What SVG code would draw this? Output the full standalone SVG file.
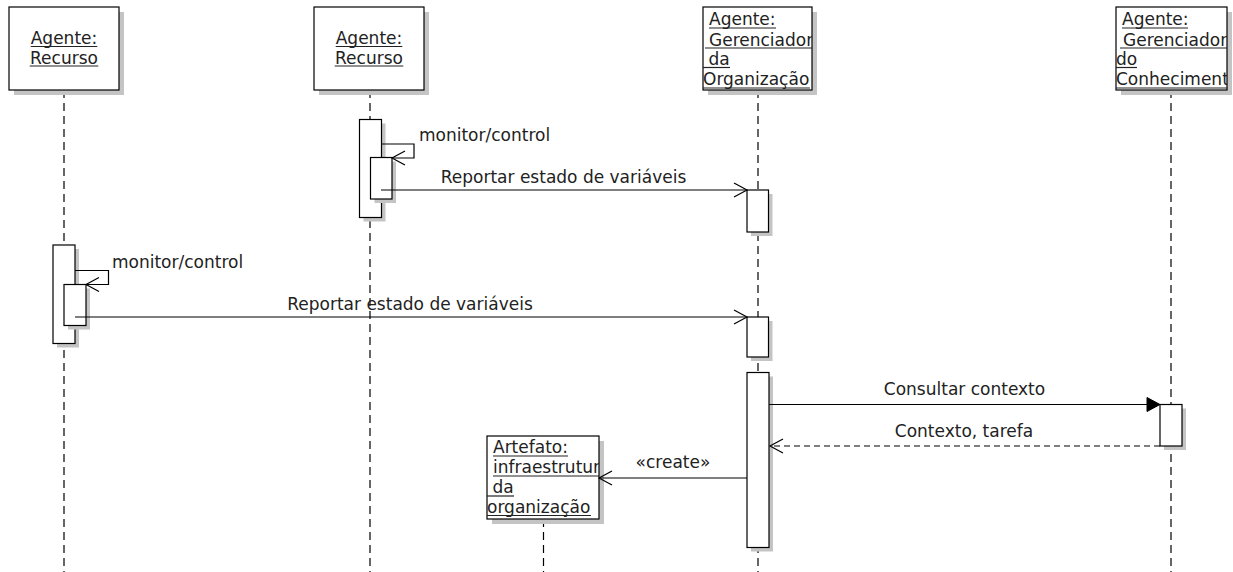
<svg xmlns="http://www.w3.org/2000/svg" width="1233" height="572" viewBox="0 0 1233 572">
  <style>
    text { font-family: "DejaVu Sans", "Liberation Sans", sans-serif; font-size: 17px; fill: #222; }
    .box { fill: #fff; stroke: #000; stroke-width: 1.2; }
    .shadow { fill: #c4c4c4; }
    .act { fill: #fff; stroke: #000; stroke-width: 1.2; }
    .life { stroke: #000; stroke-width: 1.2; stroke-dasharray: 8 5; fill: none; }
    .ul { stroke: #222; stroke-width: 1.2; }
    .msg { stroke: #000; stroke-width: 1.2; fill: none; }
    .ret { stroke: #000; stroke-width: 1.2; fill: none; stroke-dasharray: 6 4; }
    .mid { text-anchor: middle; }
  </style>
  <defs>
    <marker id="open" viewBox="-15 -9 17 18" refX="0" refY="0" markerWidth="17" markerHeight="18" markerUnits="userSpaceOnUse" orient="auto">
      <path d="M-13,-7 L0,0 L-13,7" fill="none" stroke="#000" stroke-width="1.2"/>
    </marker>
    <marker id="filled" viewBox="-15 -9 17 18" refX="0" refY="0" markerWidth="17" markerHeight="18" markerUnits="userSpaceOnUse" orient="auto">
      <path d="M-13,-7 L0,0 L-13,7 Z" fill="#000" stroke="#000" stroke-width="1"/>
    </marker>
    <clipPath id="clipOrg"><rect x="703" y="7" width="109" height="83"/></clipPath>
    <clipPath id="clipCon"><rect x="1116" y="7" width="111" height="83"/></clipPath>
    <clipPath id="clipArt"><rect x="487" y="436" width="112" height="83"/></clipPath>
  </defs>

  <rect width="1233" height="572" fill="#fff"/>

  <!-- lifelines -->
  <g id="lifelines">
    <line class="life" x1="64" y1="90" x2="64" y2="572"/>
    <line class="life" x1="370" y1="90" x2="370" y2="572"/>
    <line class="life" x1="758" y1="90" x2="758" y2="572"/>
    <line class="life" x1="1171" y1="90" x2="1171" y2="572"/>
    <line class="life" x1="543.5" y1="519" x2="543.5" y2="572"/>
  </g>

  <!-- Agente: Recurso (left) -->
  <g id="recurso1">
    <rect class="shadow" x="14" y="12" width="110" height="83"/>
    <rect class="box" x="9" y="7" width="110" height="83"/>
    <text class="mid" x="64" y="44">Agente:</text>
    <line class="ul" x1="30.7" y1="46.5" x2="97.3" y2="46.5"/>
    <text class="mid" x="64" y="63.5">Recurso</text>
    <line class="ul" x1="29.7" y1="66" x2="98.3" y2="66"/>
    <rect class="shadow" x="57" y="249" width="22" height="98.5"/>
    <rect class="act" x="53" y="245" width="22" height="98.5"/>
    <rect class="shadow" x="68" y="288.5" width="22" height="41"/>
    <rect class="act" x="64" y="284.5" width="22" height="41"/>
  </g>

  <!-- Agente: Recurso (second) -->
  <g id="recurso2">
    <rect class="shadow" x="319" y="12" width="110" height="83"/>
    <rect class="box" x="314" y="7" width="110" height="83"/>
    <text class="mid" x="369" y="44">Agente:</text>
    <line class="ul" x1="335.7" y1="46.5" x2="402.3" y2="46.5"/>
    <text class="mid" x="369" y="63.5">Recurso</text>
    <line class="ul" x1="334.7" y1="66" x2="403.3" y2="66"/>
    <rect class="shadow" x="363.5" y="123.5" width="22" height="98"/>
    <rect class="act" x="359.5" y="119.5" width="22" height="98"/>
    <rect class="shadow" x="374.5" y="161.5" width="21.5" height="41.5"/>
    <rect class="act" x="370.5" y="157.5" width="21.5" height="41.5"/>
  </g>

  <!-- Agente: Gerenciador da Organização -->
  <g id="gerOrganizacao">
    <rect class="shadow" x="708" y="12" width="109" height="83"/>
    <rect class="box" x="703" y="7" width="109" height="83"/>
    <g clip-path="url(#clipOrg)">
      <text x="709" y="25">Agente:</text>
      <line class="ul" x1="709" y1="28" x2="776" y2="28"/>
      <text x="709" y="45.5">Gerenciador</text>
      <line class="ul" x1="705" y1="48" x2="812" y2="48"/>
      <text x="708.4" y="65">da</text>
      <line class="ul" x1="703" y1="67.5" x2="730" y2="67.5"/>
      <text x="703" y="85">Organização</text>
      <line class="ul" x1="703" y1="88" x2="810" y2="88"/>
    </g>
    <rect class="shadow" x="751" y="194" width="21.5" height="42"/>
    <rect class="act" x="747" y="190" width="21.5" height="42"/>
    <rect class="shadow" x="751" y="321" width="21.5" height="40"/>
    <rect class="act" x="747" y="317" width="21.5" height="40"/>
    <rect class="shadow" x="751" y="376.5" width="22" height="175"/>
    <rect class="act" x="747" y="372.5" width="22" height="175"/>
  </g>

  <!-- Agente: Gerenciador do Conhecimento -->
  <g id="gerConhecimento">
    <rect class="shadow" x="1121" y="12" width="111" height="83"/>
    <rect class="box" x="1116" y="7" width="111" height="83"/>
    <g clip-path="url(#clipCon)">
      <text x="1122" y="25">Agente:</text>
      <line class="ul" x1="1122" y1="28" x2="1188" y2="28"/>
      <text x="1123" y="45.5">Gerenciador</text>
      <line class="ul" x1="1120" y1="48" x2="1227" y2="48"/>
      <text x="1116" y="65">do</text>
      <line class="ul" x1="1116" y1="67.5" x2="1137" y2="67.5"/>
      <text x="1116" y="85">Conheciment</text>
      <line class="ul" x1="1116" y1="88" x2="1227" y2="88"/>
    </g>
    <rect class="shadow" x="1164" y="408.5" width="22" height="41.5"/>
    <rect class="act" x="1160" y="404.5" width="22" height="41.5"/>
  </g>

  <!-- Artefato: infraestrutura da organização -->
  <g id="artefato">
    <rect class="shadow" x="492" y="441" width="112" height="83"/>
    <rect class="box" x="487" y="436" width="112" height="83"/>
    <g clip-path="url(#clipArt)">
      <text x="493" y="453">Artefato:</text>
      <line class="ul" x1="493" y1="456" x2="568" y2="456"/>
      <text x="493" y="473">infraestrutur</text>
      <line class="ul" x1="493" y1="476" x2="599" y2="476"/>
      <text x="492.4" y="493">da</text>
      <line class="ul" x1="487" y1="496" x2="514" y2="496"/>
      <text x="487" y="512.5">organização</text>
      <line class="ul" x1="487" y1="515.5" x2="591" y2="515.5"/>
    </g>
  </g>

  <!-- messages -->
  <g id="connectors">
    <path class="msg" d="M381.5,144 H414 V158 H392" marker-end="url(#open)"/>
    <text x="419" y="141">monitor/control</text>

    <path class="msg" d="M381,190 H747" marker-end="url(#open)"/>
    <text class="mid" x="563.5" y="182.5">Reportar estado de variáveis</text>

    <path class="msg" d="M75,270.5 H108.5 V284.5 H86" marker-end="url(#open)"/>
    <text x="112" y="268">monitor/control</text>

    <path class="msg" d="M75,317 H747" marker-end="url(#open)"/>
    <text class="mid" x="410" y="309.5">Reportar estado de variáveis</text>

    <path class="msg" d="M769,404.5 H1160" marker-end="url(#filled)"/>
    <text class="mid" x="964.5" y="395">Consultar contexto</text>

    <path class="ret" d="M1160,446 H770" marker-end="url(#open)"/>
    <text class="mid" x="964" y="437">Contexto, tarefa</text>

    <path class="msg" d="M747,478 H599" marker-end="url(#open)"/>
    <text class="mid" x="673" y="468">«create»</text>
  </g>
</svg>
